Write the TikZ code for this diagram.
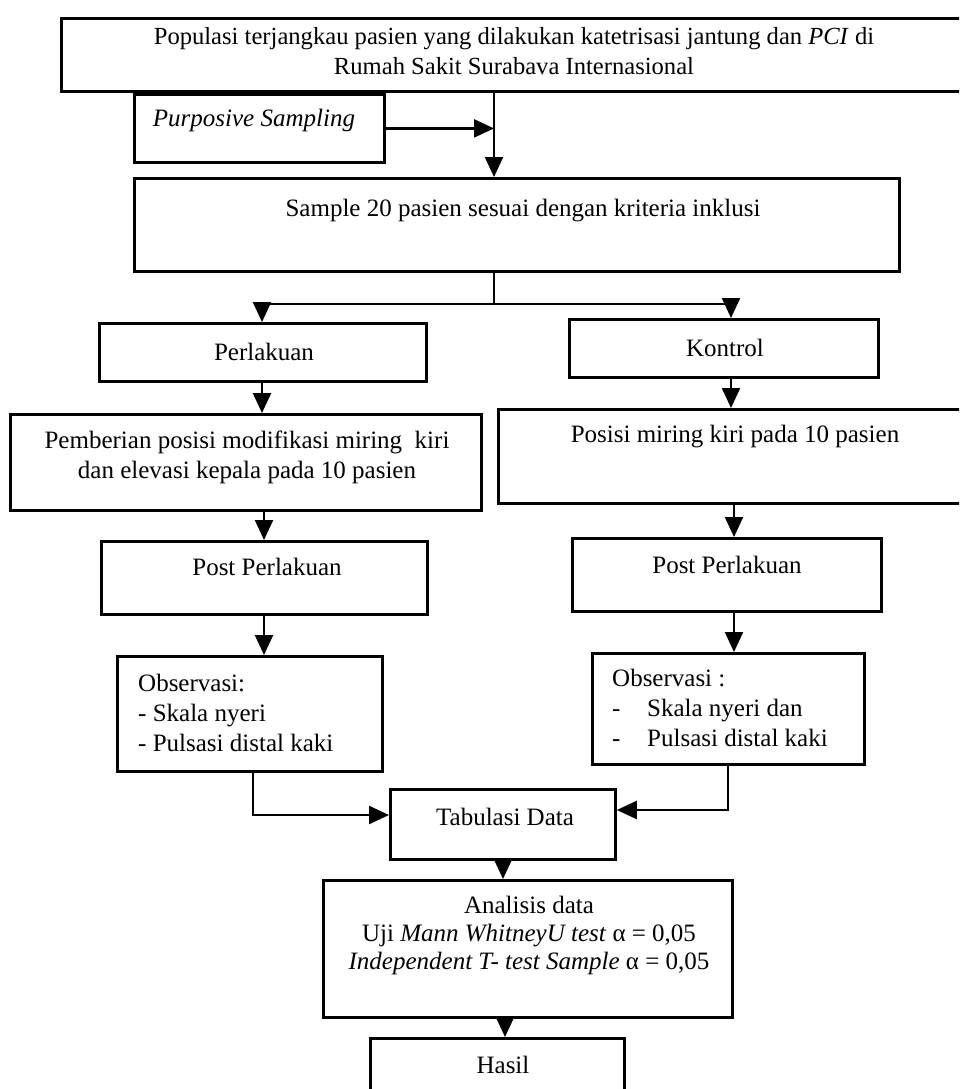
\documentclass[tikz,border=0pt]{standalone}
\usepackage{fontspec}
\setmainfont{Liberation Serif}
\usetikzlibrary{arrows.meta}
\tikzset{
  box/.style={draw, line width=2.8pt, rectangle, inner sep=0pt, anchor=north west},
  txt/.style={inner sep=0pt, font=\fontsize{25}{30}\selectfont, align=center},
  conn/.style={line width=2.3pt},
  arr/.style={conn, -{Triangle[length=20pt,width=18pt]}}
}
\begin{document}
\begin{tikzpicture}[x=1pt,y=-1pt]
\useasboundingbox (0,0) rectangle (959,1089);
\clip (0,0) rectangle (959,1089);
% boxes
\node[box, minimum width=915pt, minimum height=73pt] (top) at (60,17) {};
\node[box, minimum width=250pt, minimum height=68pt] (purp) at (133,93) {};
\node[box, minimum width=765pt, minimum height=93pt] (sample) at (133,177) {};
\node[box, minimum width=327pt, minimum height=58pt] (perl) at (98,322) {};
\node[box, minimum width=309pt, minimum height=58pt] (kont) at (568,318) {};
\node[box, minimum width=471pt, minimum height=96pt] (pemb) at (9,413) {};
\node[box, minimum width=478pt, minimum height=94pt] (posisi) at (497,408) {};
\node[box, minimum width=326pt, minimum height=73pt] (postL) at (100,540) {};
\node[box, minimum width=309pt, minimum height=73pt] (postR) at (571,537) {};
\node[box, minimum width=265pt, minimum height=115pt] (obsL) at (116,655) {};
\node[box, minimum width=272pt, minimum height=111pt] (obsR) at (591,652) {};
\node[box, minimum width=225pt, minimum height=70pt] (tab) at (389,788) {};
\node[box, minimum width=409pt, minimum height=137pt] (anal) at (322,879) {};
\node[box, minimum width=254pt, minimum height=70pt] (hasil) at (369,1037) {};
% texts
\node[txt, font=\fontsize{24.6}{30}\selectfont] (topT) at (514,51) {Populasi terjangkau pasien yang dilakukan katetrisasi jantung dan \textit{PCI} di\\Rumah Sakit Surabava Internasional};
\node[txt] (purpT) at (254,120) {\textit{Purposive Sampling}};
\node[txt] (sampleT) at (523,211) {Sample 20 pasien sesuai dengan kriteria inklusi};
\node[txt] (perlT) at (264,352) {Perlakuan};
\node[txt] (kontT) at (725,348) {Kontrol};
\node[txt] (pembT) at (247,457) {Pemberian posisi modifikasi miring\ \ kiri\\dan elevasi kepala pada 10 pasien};
\node[txt] (posisiT) at (735,437) {Posisi miring kiri pada 10 pasien};
\node[txt] (postLT) at (267,567) {Post Perlakuan};
\node[txt] (postRT) at (727,565) {Post Perlakuan};
\node[txt, anchor=west, align=left] (obsLT) at (138,713) {Observasi:\\- Skala nyeri\\- Pulsasi distal kaki};
\node[txt, anchor=west, align=left] (obsRT) at (612,708) {Observasi :\\\makebox[35pt][l]{-}Skala nyeri dan\\\makebox[35pt][l]{-}Pulsasi distal kaki};
\node[txt] (tabT) at (505,817) {Tabulasi Data};
\node[txt, font=\fontsize{25}{28}\selectfont] (analT) at (529,935) {Analisis data\\Uji \textit{Mann WhitneyU test} α = 0,05\\\textit{Independent T- test Sample} α = 0,05};
\node[txt] (hasilT) at (503,1065) {Hasil};
% connector helpers
\coordinate (m) at (494,0);
\coordinate (split) at (494,304);
\coordinate (cL) at (262,0);
\coordinate (cR) at (731,0);
% connectors
\draw[arr] (top.south -| m) -- (sample.north -| m);
\draw[arr] (purp.east) -- (purp.east -| m);
\draw[conn] (sample.south -| m) -- (split);
\draw[conn] (split -| cL) -- (split -| cR);
\draw[arr] (split -| cL) -- (perl.north -| cL);
\draw[arr] (split -| cR) -- (kont.north -| cR);
\draw[arr] (perl.south -| cL) -- (pemb.north -| cL);
\draw[arr] (kont.south -| cR) -- (posisi.north -| cR);
\coordinate (dL) at (264,0);
\coordinate (dR) at (734,0);
\draw[arr] (pemb.south -| dL) -- (postL.north -| dL);
\draw[arr] (posisi.south -| dR) -- (postR.north -| dR);
\draw[arr] (postL.south -| dL) -- (obsL.north -| dL);
\draw[arr] (postR.south -| dR) -- (obsR.north -| dR);
\coordinate (eL) at (253,815);
\coordinate (eR) at (728,810);
\draw[arr] (obsL.south -| eL) -- (eL) -- (tab.west |- eL);
\draw[arr] (obsR.south -| eR) -- (eR) -- (tab.east |- eR);
\coordinate (f1) at (503,0);
\coordinate (f2) at (505,0);
\draw[arr] (tab.south -| f1) -- (anal.north -| f1);
\draw[arr] (anal.south -| f2) -- (hasil.north -| f2);
\end{tikzpicture}
\end{document}
